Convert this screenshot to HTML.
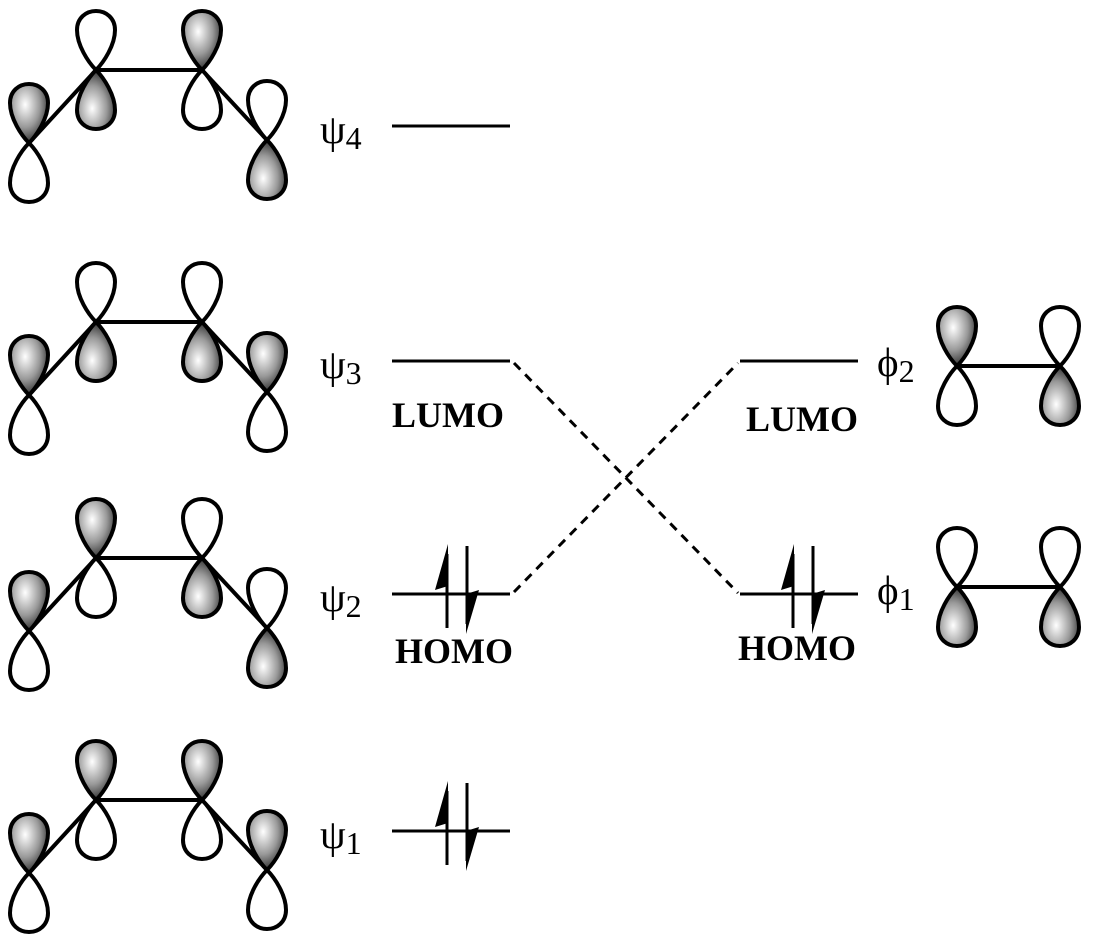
<!DOCTYPE html>
<html><head><meta charset="utf-8"><style>
html,body{margin:0;padding:0;background:#fff;}
svg{display:block;}
text{font-family:"Liberation Serif",serif;}
.p{font-size:41px;}
.s{font-size:32px;}
.b{font-size:36px;font-weight:bold;}
</style></head><body>
<svg width="1093" height="947" viewBox="0 0 1093 947" xmlns="http://www.w3.org/2000/svg">
<defs>
<radialGradient id="g" cx="0.4" cy="0.35" r="0.7">
<stop offset="0" stop-color="#fff"/><stop offset="0.55" stop-color="#999"/><stop offset="1" stop-color="#222"/>
</radialGradient>
<path id="L" d="M0,0 C-8,-8 -19,-25 -19,-40 C-19,-52 -10,-59 0,-59 C10,-59 19,-52 19,-40 C19,-25 8,-8 0,0Z" stroke="#000" stroke-width="4" stroke-linejoin="round"/>
<g id="E">
<line x1="0" y1="34" x2="0" y2="-40" stroke="#000" stroke-width="3"/>
<path d="M1,-50 L-12,-4 L1,-8Z" fill="#000"/>
<line x1="20" y1="-48" x2="20" y2="30" stroke="#000" stroke-width="3"/>
<path d="M19,40 L32,-4 L19,0Z" fill="#000"/>
</g>
</defs>

<g>
<line x1="29" y1="143" x2="96" y2="70" stroke="#000" stroke-width="4"/>
<line x1="96" y1="70" x2="202" y2="70" stroke="#000" stroke-width="4"/>
<line x1="202" y1="70" x2="267" y2="140" stroke="#000" stroke-width="4"/>
<use href="#L" transform="translate(29,143)" fill="url(#g)"/>
<use href="#L" transform="translate(29,143) scale(1,-1)" fill="#fff"/>
<use href="#L" transform="translate(96,70)" fill="#fff"/>
<use href="#L" transform="translate(96,70) scale(1,-1)" fill="url(#g)"/>
<use href="#L" transform="translate(202,70)" fill="url(#g)"/>
<use href="#L" transform="translate(202,70) scale(1,-1)" fill="#fff"/>
<use href="#L" transform="translate(267,140)" fill="#fff"/>
<use href="#L" transform="translate(267,140) scale(1,-1)" fill="url(#g)"/>
</g>
<g transform="translate(0,252)">
<line x1="29" y1="143" x2="96" y2="70" stroke="#000" stroke-width="4"/>
<line x1="96" y1="70" x2="202" y2="70" stroke="#000" stroke-width="4"/>
<line x1="202" y1="70" x2="267" y2="140" stroke="#000" stroke-width="4"/>
<use href="#L" transform="translate(29,143)" fill="url(#g)"/>
<use href="#L" transform="translate(29,143) scale(1,-1)" fill="#fff"/>
<use href="#L" transform="translate(96,70)" fill="#fff"/>
<use href="#L" transform="translate(96,70) scale(1,-1)" fill="url(#g)"/>
<use href="#L" transform="translate(202,70)" fill="#fff"/>
<use href="#L" transform="translate(202,70) scale(1,-1)" fill="url(#g)"/>
<use href="#L" transform="translate(267,140)" fill="url(#g)"/>
<use href="#L" transform="translate(267,140) scale(1,-1)" fill="#fff"/>
</g>
<g transform="translate(0,488)">
<line x1="29" y1="143" x2="96" y2="70" stroke="#000" stroke-width="4"/>
<line x1="96" y1="70" x2="202" y2="70" stroke="#000" stroke-width="4"/>
<line x1="202" y1="70" x2="267" y2="140" stroke="#000" stroke-width="4"/>
<use href="#L" transform="translate(29,143)" fill="url(#g)"/>
<use href="#L" transform="translate(29,143) scale(1,-1)" fill="#fff"/>
<use href="#L" transform="translate(96,70)" fill="url(#g)"/>
<use href="#L" transform="translate(96,70) scale(1,-1)" fill="#fff"/>
<use href="#L" transform="translate(202,70)" fill="#fff"/>
<use href="#L" transform="translate(202,70) scale(1,-1)" fill="url(#g)"/>
<use href="#L" transform="translate(267,140)" fill="#fff"/>
<use href="#L" transform="translate(267,140) scale(1,-1)" fill="url(#g)"/>
</g>
<g transform="translate(0,730)">
<line x1="29" y1="143" x2="96" y2="70" stroke="#000" stroke-width="4"/>
<line x1="96" y1="70" x2="202" y2="70" stroke="#000" stroke-width="4"/>
<line x1="202" y1="70" x2="267" y2="140" stroke="#000" stroke-width="4"/>
<use href="#L" transform="translate(29,143)" fill="url(#g)"/>
<use href="#L" transform="translate(29,143) scale(1,-1)" fill="#fff"/>
<use href="#L" transform="translate(96,70)" fill="url(#g)"/>
<use href="#L" transform="translate(96,70) scale(1,-1)" fill="#fff"/>
<use href="#L" transform="translate(202,70)" fill="url(#g)"/>
<use href="#L" transform="translate(202,70) scale(1,-1)" fill="#fff"/>
<use href="#L" transform="translate(267,140)" fill="url(#g)"/>
<use href="#L" transform="translate(267,140) scale(1,-1)" fill="#fff"/>
</g>

<line x1="957" y1="366" x2="1060" y2="366" stroke="#000" stroke-width="4"/>
<use href="#L" transform="translate(957,366)" fill="url(#g)"/>
<use href="#L" transform="translate(957,366) scale(1,-1)" fill="#fff"/>
<use href="#L" transform="translate(1060,366)" fill="#fff"/>
<use href="#L" transform="translate(1060,366) scale(1,-1)" fill="url(#g)"/>
<line x1="957" y1="587" x2="1060" y2="587" stroke="#000" stroke-width="4"/>
<use href="#L" transform="translate(957,587)" fill="#fff"/>
<use href="#L" transform="translate(957,587) scale(1,-1)" fill="url(#g)"/>
<use href="#L" transform="translate(1060,587)" fill="#fff"/>
<use href="#L" transform="translate(1060,587) scale(1,-1)" fill="url(#g)"/>

<g stroke="#000" stroke-width="3">
<line x1="392" y1="126" x2="510" y2="126"/>
<line x1="392" y1="361" x2="510" y2="361"/>
<line x1="392" y1="594" x2="510" y2="594"/>
<line x1="392" y1="831" x2="510" y2="831"/>
<line x1="740" y1="361" x2="858" y2="361"/>
<line x1="740" y1="594" x2="858" y2="594"/>
</g>
<g stroke="#000" stroke-width="3" stroke-dasharray="9,7">
<line x1="514" y1="363" x2="738" y2="593"/>
<line x1="514" y1="592" x2="738" y2="363"/>
</g>

<use href="#E" transform="translate(447,594)"/>
<use href="#E" transform="translate(447,831)"/>
<use href="#E" transform="translate(793,594)"/>

<text class="p" x="320" y="143">ψ<tspan class="s" dy="6">4</tspan></text>
<text class="p" x="320" y="378">ψ<tspan class="s" dy="6">3</tspan></text>
<text class="p" x="320" y="611">ψ<tspan class="s" dy="6">2</tspan></text>
<text class="p" x="320" y="848">ψ<tspan class="s" dy="6">1</tspan></text>
<text class="p" x="877" y="376">ϕ<tspan class="s" dy="6">2</tspan></text>
<text class="p" x="877" y="604">ϕ<tspan class="s" dy="6">1</tspan></text>
<text class="b" x="392" y="427">LUMO</text>
<text class="b" x="395" y="663">HOMO</text>
<text class="b" x="746" y="431">LUMO</text>
<text class="b" x="738" y="660">HOMO</text>
</svg>
</body></html>
